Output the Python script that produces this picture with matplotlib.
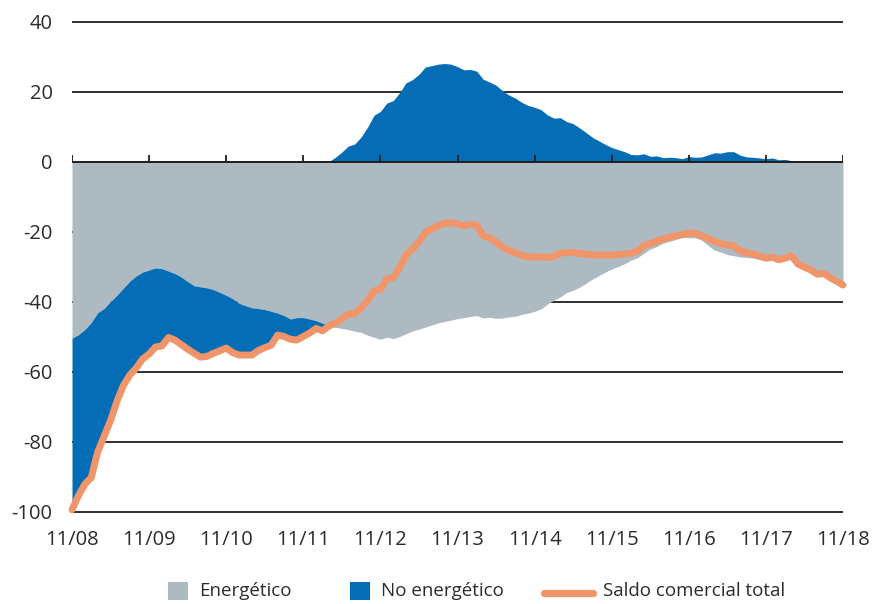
import matplotlib
matplotlib.use("Agg")
import matplotlib.pyplot as plt
from matplotlib.patches import Rectangle
from matplotlib.lines import Line2D
import numpy as np

# Monthly data, Nov 2008 .. Nov 2018 (121 months)
energetico = [
    -50.5, -49.5, -48.0, -46.0, -43.2, -42.0, -40.0, -38.2, -36.2, -34.2,
    -32.7, -31.6, -31.0, -30.4, -30.6, -31.3, -32.0, -33.0, -34.3, -35.5,
    -35.8, -36.1, -36.6, -37.4, -38.2, -39.2, -40.5, -41.2, -41.8, -42.0,
    -42.3, -42.8, -43.3, -44.0, -45.0, -44.6, -44.6, -45.0, -45.5, -46.2,
    -47.0, -47.4, -47.7, -48.0, -48.5, -48.8, -49.6, -50.2, -50.8, -50.2,
    -50.6, -50.0, -49.2, -48.4, -47.9, -47.3, -46.7, -46.1, -45.7, -45.3,
    -44.9, -44.6, -44.3, -44.0, -44.7, -44.5, -44.8, -44.7, -44.4, -44.2,
    -43.7, -43.3, -42.8, -42.1, -40.7, -39.6, -38.7, -37.4, -36.8, -35.9,
    -34.8, -33.6, -32.6, -31.6, -30.7, -30.0, -29.2, -28.2, -27.5, -26.2,
    -25.0, -24.3, -23.3, -22.8, -22.3, -21.7, -21.8, -21.8, -22.5, -24.0,
    -25.3, -25.9, -26.6, -26.9, -27.3, -27.4, -27.6, -28.0, -28.4, -28.3,
    -28.6, -28.2, -27.2, -29.3, -30.2, -31.0, -32.2, -32.0, -33.2, -34.2,
    -35.3,
]

saldo_total = [
    -99.5, -95.5, -92.2, -90.3, -83.0, -78.5, -74.0, -68.5, -64.0, -61.0,
    -59.0, -56.4, -55.0, -53.0, -52.7, -50.3, -51.0, -52.3, -53.6, -54.8,
    -55.9, -55.7, -54.8, -54.1, -53.3, -54.6, -55.3, -55.3, -55.3, -54.0,
    -53.2, -52.5, -49.6, -50.0, -50.8, -51.0, -50.0, -49.0, -47.7, -48.4,
    -47.0, -46.2, -45.0, -43.6, -43.5, -41.8, -39.8, -37.0, -36.5, -33.5,
    -33.2, -30.3, -26.7, -25.0, -23.0, -20.3, -19.3, -18.3, -17.7, -17.5,
    -17.8, -18.4, -18.0, -18.2, -21.2, -21.8, -23.0, -24.5, -25.4, -26.1,
    -26.8, -27.3, -27.3, -27.3, -27.4, -27.2, -26.2, -26.0, -26.0, -26.3,
    -26.5, -26.7, -26.7, -26.7, -26.7, -26.6, -26.4, -26.2, -25.6, -24.0,
    -23.5, -22.7, -22.2, -21.6, -21.2, -20.9, -20.4, -20.6, -21.2, -22.1,
    -22.8, -23.5, -23.8, -24.1, -25.5, -26.1, -26.4, -27.0, -27.6, -27.3,
    -28.1, -27.6, -27.0, -29.3, -30.2, -31.0, -32.2, -32.0, -33.2, -34.2,
    -35.3,
]

x_labels = ["11/08", "11/09", "11/10", "11/11", "11/12", "11/13",
            "11/14", "11/15", "11/16", "11/17", "11/18"]
y_ticks = [-100, -80, -60, -40, -20, 0, 20, 40]
legend_labels = ["Energético", "No energético", "Saldo comercial total"]

C_GRAY = "#AEBAC1"
C_BLUE = "#046DB5"
C_ORANGE = "#F0956A"
C_TEXT = "#2b2b2b"
C_GRID = "#1e1e1e"

plt.rcParams["font.family"] = ["Open Sans", "DejaVu Sans"]

energ = np.array(energetico)
total = np.array(saldo_total)
no_energ = total - energ
months = np.arange(len(energ))

W, H = 876, 604
fig = plt.figure(figsize=(W / 100, H / 100), dpi=100)
ax = fig.add_axes([72 / W, 1 - 518.5 / H, (843 - 72) / W, (518.5 - 14.5) / H])
ax.set_xlim(0, 120)
ax.set_ylim(-102, 42)

for yv in y_ticks:
    if yv != 0:
        ax.plot([0, 120], [yv, yv], color=C_GRID, lw=1.3, zorder=1, solid_capstyle="butt")

# Energético (gray): from 0 down to energ
ax.fill_between(months, 0, energ, color=C_GRAY, lw=0, zorder=2)
# No energético negative part: stacked below energético
neg = np.minimum(no_energ, 0)
ax.fill_between(months, energ, energ + neg, color=C_BLUE, lw=0, zorder=3)
# No energético positive part: above 0
pos = np.maximum(no_energ, 0)
ax.fill_between(months, 0, pos, color=C_BLUE, lw=0, zorder=3)

# Total line
ax.plot(months, total, color=C_ORANGE, lw=5, zorder=5, solid_joinstyle="round",
        solid_capstyle="round", clip_on=False)

# Zero axis with small ticks
ax.plot([0, 120], [0, 0], color=C_GRID, lw=1.4, zorder=6)
tick_pos = np.arange(0, 121, 12)
ax.vlines(tick_pos, 0, 2.0, color=C_GRID, lw=1.3, zorder=6)

for s in ax.spines.values():
    s.set_visible(False)
ax.set_xticks(tick_pos)
ax.set_xticklabels(x_labels)
ax.set_yticks(y_ticks)
ax.set_yticklabels([str(v) for v in y_ticks])
ax.tick_params(axis="both", length=0, labelsize=14.5, colors=C_TEXT)
ax.tick_params(axis="y", pad=14)
ax.tick_params(axis="x", pad=8)
ax.set_facecolor("white")

# Legend (drawn in figure pixel coordinates)
def fx(px):
    return px / W

def fy(py):
    return 1 - py / H

ly = 591
fig.add_artist(Rectangle((fx(168), fy(600)), 20 / W, 18 / H, transform=fig.transFigure,
                         facecolor=C_GRAY, edgecolor="none"))
fig.text(fx(199), fy(ly), legend_labels[0], ha="left", va="center", fontsize=13.5, color=C_TEXT)
fig.add_artist(Rectangle((fx(350), fy(600)), 20 / W, 18 / H, transform=fig.transFigure,
                         facecolor=C_BLUE, edgecolor="none"))
fig.text(fx(381), fy(ly), legend_labels[1], ha="left", va="center", fontsize=13.5, color=C_TEXT)
fig.add_artist(Line2D([fx(544), fx(593)], [fy(592.5), fy(592.5)], transform=fig.transFigure,
                      color=C_ORANGE, lw=5.2, solid_capstyle="round"))
fig.text(fx(603), fy(ly), legend_labels[2], ha="left", va="center", fontsize=13.5, color=C_TEXT)

fig.savefig("out.png", dpi=100)
